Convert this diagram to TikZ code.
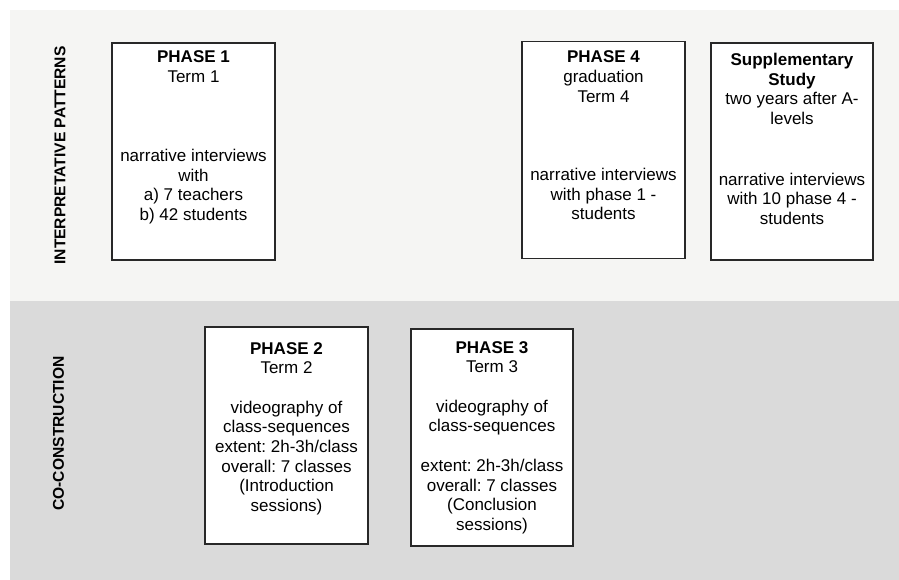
\documentclass[tikz,border=0pt]{standalone}
\usepackage{fontspec}
\setmainfont{Liberation Sans}
\usepackage{tikz}
\usetikzlibrary{positioning}
\definecolor{bandlight}{RGB}{245, 245, 243}
\definecolor{banddark}{RGB}{218, 218, 218}
\definecolor{boxline}{RGB}{40, 40, 40}
\frenchspacing

\tikzset{
    phasebox/.style={draw=boxline, fill=white, line width=1.2pt, minimum width=163pt, minimum height=217pt, inner sep=0pt},
    phasetext/.style={align=center, inner sep=0pt, font=\fontsize{17}{19.7}\selectfont},
    sidelabel/.style={rotate=90, inner sep=0pt, font=\fontsize{15.6}{18}\selectfont\bfseries}
}

\begin{document}
\begin{tikzpicture}[x=1pt, y=-1pt]
    \useasboundingbox (0,0) rectangle (899,580);
    % the two bands
    \fill[bandlight] (10,10) rectangle (899,301);
    \fill[banddark] (10,301) rectangle (899,580);
    \node[sidelabel] (interp) at (60,155.5) {INTERPRETATIVE PATTERNS};
    \node[sidelabel] (cocon) at (58.5,433.5) {CO-CONSTRUCTION};
    % upper row
    \node[phasebox] (p1) at (193.5,151.5) {};
    \node[phasebox] (p4) at (603.5,150) {};
    \node[phasebox, minimum width=162pt] (supp) at (792,151.5) {};
    \node[phasetext, below=8.5pt of p1.north] (p1text) {%
        {\bfseries PHASE 1}\\Term 1\\[59pt]
        narrative interviews\\with\\a) 7 teachers\\b) 42 students};
    \node[phasetext, below=9.8pt of p4.north] (p4text) {%
        {\bfseries PHASE 4}\\graduation\\Term 4\\[58.5pt]
        narrative interviews\\with phase 1 -\\students};
    \node[phasetext, below=10.5pt of supp.north] (supptext) {%
        {\bfseries Supplementary}\\{\bfseries Study}\\two years after A-\\levels\\[41pt]
        narrative interviews\\with 10 phase 4 -\\students};
    % lower row
    \node[phasebox] (p2) at (286.5,435.5) {};
    \node[phasebox, minimum width=162pt] (p3) at (492,437.5) {};
    \node[phasetext, below=15.8pt of p2.north] (p2text) {%
        {\bfseries PHASE 2}\\Term 2\\[19.5pt]
        videography of\\class-sequences\\extent: 2h-3h/class\\overall: 7 classes\\(Introduction\\sessions)};
    \node[phasetext, below=12.8pt of p3.north] (p3text) {%
        {\bfseries PHASE 3}\\Term 3\\[19.5pt]
        videography of\\class-sequences\\[20pt]
        extent: 2h-3h/class\\overall: 7 classes\\(Conclusion\\sessions)};
\end{tikzpicture}
\end{document}
